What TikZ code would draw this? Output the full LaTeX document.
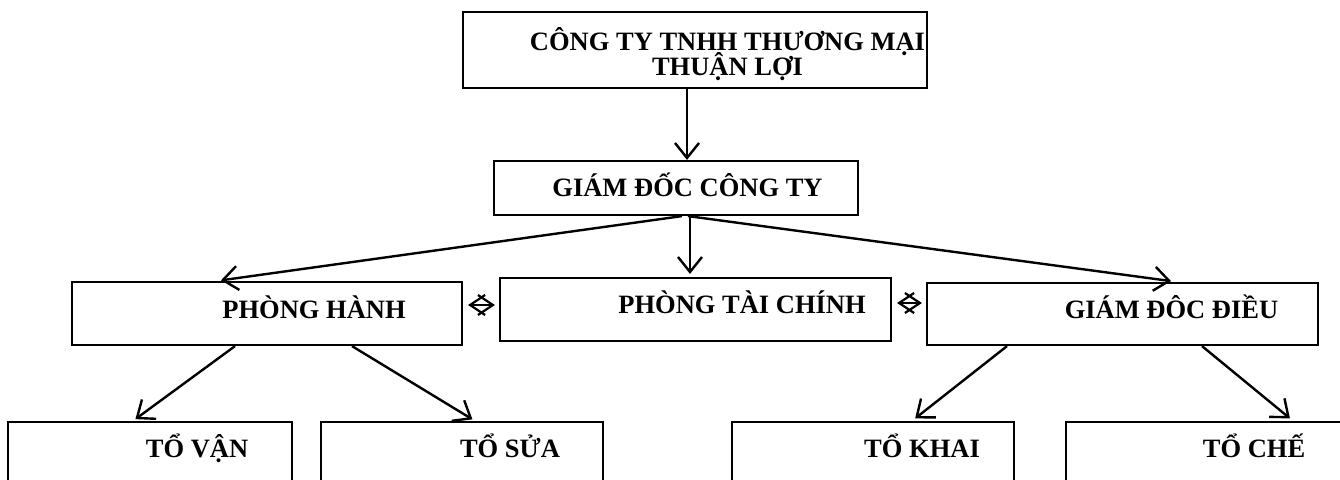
\documentclass[tikz,border=0pt]{standalone}
\usepackage{fontspec}
\setmainfont{Liberation Serif}
\usetikzlibrary{arrows.meta}

\newcommand{\lblfont}{\fontsize{26.5}{25}\selectfont\bfseries\lineskiplimit=-40pt\relax}

\begin{document}
\begin{tikzpicture}[x = 1pt, y = -1pt, line width = 2.4pt,
                        box/.style = {draw, rectangle, line width = 2.2pt, inner sep = 0pt},
                        lbl/.style = {anchor = base, inner sep = 0pt, align = center, font = \lblfont},
                        arr/.style = {-{Straight Barb[length = 15pt, width = 24pt]}},
                        dbl/.style = {{Straight Barb[length = 15pt, width = 20pt]}-{Straight Barb[length = 15pt, width = 20pt]},
                                      line width = 2.2pt, shorten <= 5pt, shorten >= 4pt}]
      \clip (0, 0) rectangle (1340, 479);
      % boxes
      \node [box, minimum width = 464pt, minimum height = 76pt] (cty) at (695, 50){};
      \node [box, minimum width = 364pt, minimum height = 54pt] (gd) at (676, 188){};
      \node [box, minimum width = 390pt, minimum height = 63pt] (hanh) at (267, 313.5){};
      \node [box, minimum width = 391pt, minimum height = 63pt] (tc) at (695.5, 309.5){};
      \node [box, minimum width = 391pt, minimum height = 62pt] (dieu) at (1122.5, 314){};
      \node [box, minimum width = 284pt, minimum height = 100pt] (van) at (150, 472){};
      \node [box, minimum width = 282pt, minimum height = 100pt] (sua) at (462, 472){};
      \node [box, minimum width = 282pt, minimum height = 100pt] (khai) at (873, 472){};
      \node [box, minimum width = 282pt, minimum height = 100pt] (che) at (1207, 472){};
      % texts
      \node [lbl] (ctyT) at (727.5, 75){CÔNG TY TNHH THƯƠNG MẠI\\THUẬN LỢI};
      \node [lbl] (gdT) at (687.5, 196){GIÁM ĐỐC CÔNG TY};
      \node [lbl] (hanhT) at (314, 318){PHÒNG HÀNH};
      \node [lbl] (tcT) at (742, 313){PHÒNG TÀI CHÍNH};
      \node [lbl] (dieuT) at (1171.5, 318){GIÁM ĐÔC ĐIỀU};
      \node [lbl] (vanT) at (197, 457){TỔ VẬN};
      \node [lbl] (suaT) at (510, 457){TỔ SỬA};
      \node [lbl] (khaiT) at (922, 457){TỔ KHAI};
      \node [lbl] (cheT) at (1254, 457){TỔ CHẾ};
      % arrows
      \draw [arr] ([xshift = -8pt]cty.south) -- ([xshift = 11pt]gd.north);
      \draw [arr, shorten >= 4pt] ([xshift = 6pt]gd.south) -- ([xshift = -50pt]hanh.north);
      \draw [arr, shorten >= 3pt] ([xshift = 14pt]gd.south) -- ([xshift = 14pt]gd.south |- tc.north);
      \draw [arr, shorten >= 6pt] ([xshift = 12pt]gd.south) -- ([xshift = 54.5pt]dieu.north);
      \draw [arr, shorten >= 3pt] ([xshift = -32pt]hanh.south) -- ([xshift = -17pt]van.north);
      \draw [arr, shorten >= 3pt] ([xshift = 85pt]hanh.south) -- ([xshift = 13pt]sua.north);
      \draw [arr, shorten >= 4pt] ([xshift = -115.5pt]dieu.south) -- ([xshift = 39pt]khai.north);
      \draw [arr, shorten >= 4pt] ([xshift = 79.5pt]dieu.south) -- ([xshift = 86pt]che.north);
      \draw [dbl] ([yshift = 8.5pt]hanh.east) -- ([yshift = 8.5pt]hanh.east -| tc.west);
      \draw [dbl] ([yshift = 6.5pt]tc.east) -- ([yshift = 6.5pt]tc.east -| dieu.west);
    \end{tikzpicture}
\end{document}
